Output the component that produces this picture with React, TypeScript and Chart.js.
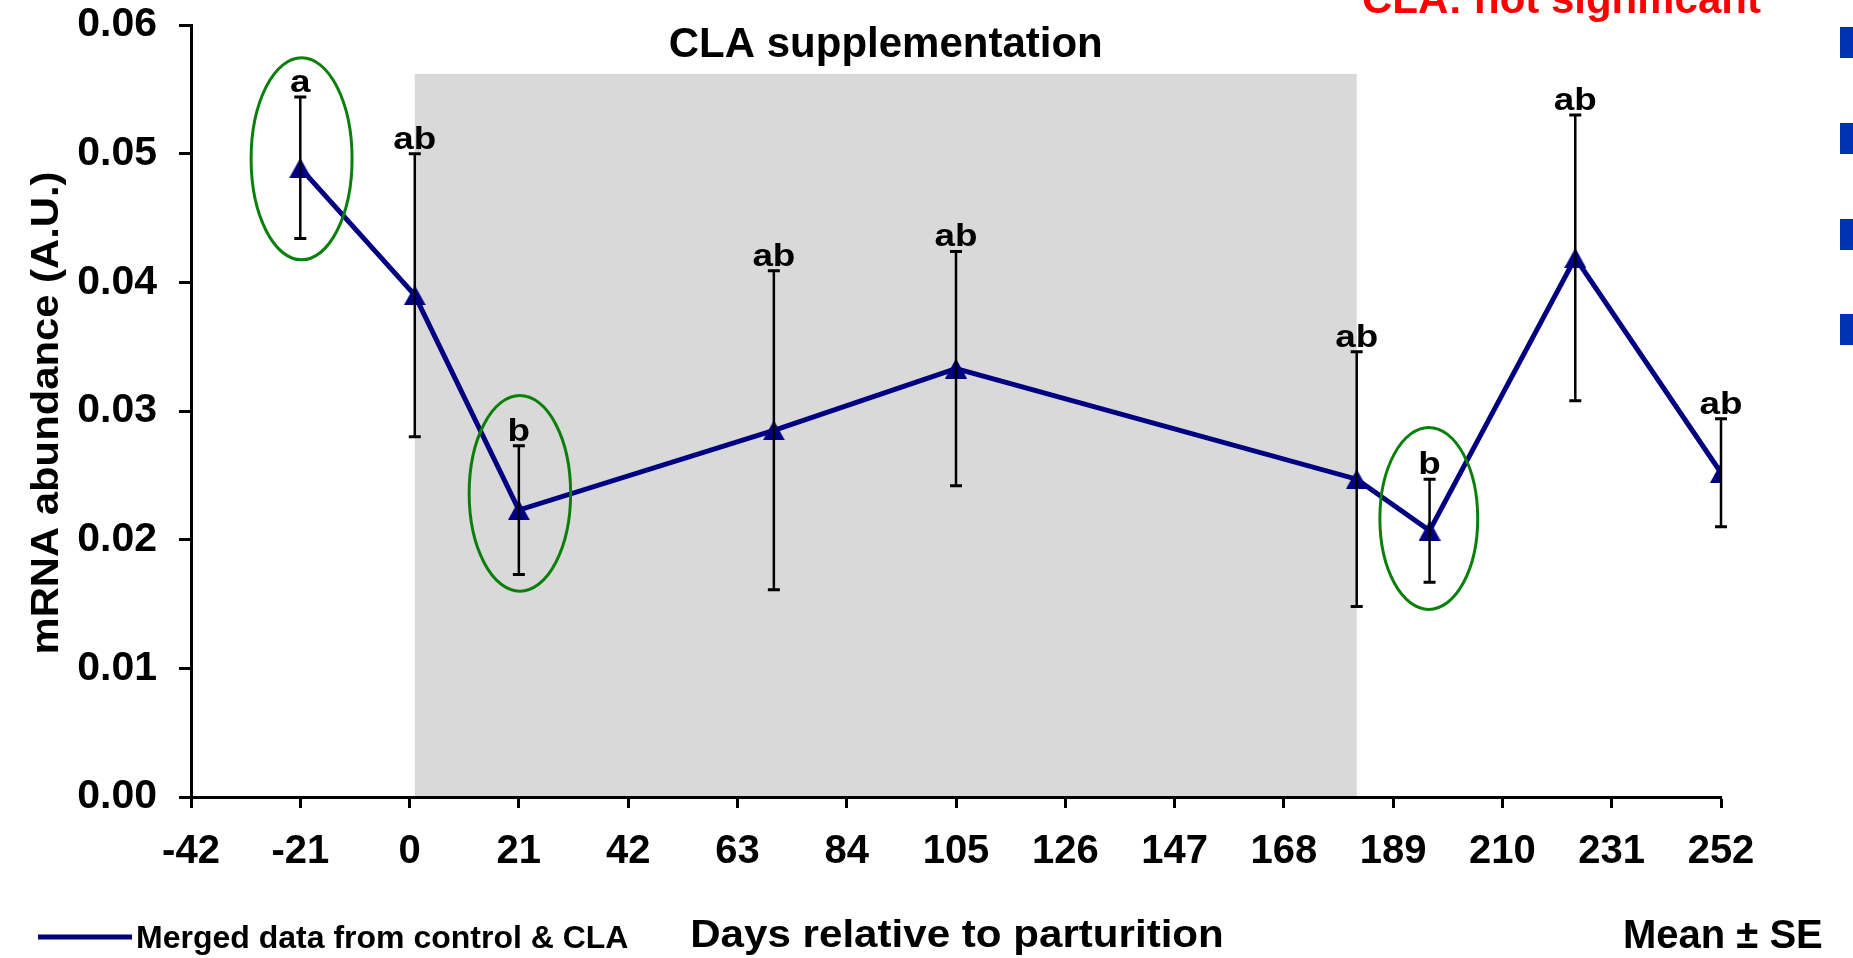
import React, { useEffect, useRef } from 'react';
import { Chart, registerables } from 'chart.js';

Chart.register(...registerables);

// ---- data ----
const days = [-21, 1, 21, 70, 105, 182, 196, 224, 252];
const means = [0.0489, 0.039, 0.0223, 0.0285, 0.0333, 0.0247, 0.0207, 0.0419, 0.0252];
const se = [0.0055, 0.011, 0.005, 0.0124, 0.0091, 0.0099, 0.004, 0.0111, 0.0042];
const letters = ['a', 'ab', 'b', 'ab', 'ab', 'ab', 'b', 'ab', 'ab'];

const xTicks = [-42, -21, 0, 21, 42, 63, 84, 105, 126, 147, 168, 189, 210, 231, 252];
const yTicks = [0, 0.01, 0.02, 0.03, 0.04, 0.05, 0.06];

// supplementation period (days) and top of shaded band (A.U.)
const supplementStart = 1;
const supplementEnd = 182;
const supplementTop = 0.0562;

// highlighted points (green ellipses), in data units
const ellipseDays = [-20.75, 21.2, 195.85];
const ellipseCenters = [0.0496, 0.0236, 0.02165];
const ellipseHalfDays = [9.7, 9.75, 9.4];
const ellipseHalfValues = [0.00785, 0.0076, 0.00707];

const seriesLabel = 'Merged data from control & CLA';
const xTitle = 'Days relative to parturition';
const yTitle = 'mRNA abundance (A.U.)';
const bandTitle = 'CLA supplementation';
const noteText = 'CLA: not significant';
const statText = 'Mean ± SE';

const FONT = '"Liberation Sans", Arial, Helvetica, sans-serif';
const NAVY = '#000080';

function drawText(
  ctx: CanvasRenderingContext2D,
  text: string,
  x: number,
  y: number,
  size: number,
  color: string,
  align: CanvasTextAlign,
  sx = 1,
  rot = 0
) {
  ctx.save();
  ctx.translate(x, y);
  if (rot) ctx.rotate(rot);
  ctx.scale(sx, 1);
  ctx.font = `bold ${size}px ${FONT}`;
  ctx.fillStyle = color;
  ctx.textAlign = align;
  ctx.textBaseline = 'alphabetic';
  ctx.fillText(text, 0, 0);
  ctx.restore();
}

function makeTriangle(): HTMLCanvasElement {
  const c = document.createElement('canvas');
  c.width = 22;
  c.height = 20;
  const g = c.getContext('2d')!;
  g.fillStyle = NAVY;
  g.beginPath();
  g.moveTo(11, 0);
  g.lineTo(22, 20);
  g.lineTo(0, 20);
  g.closePath();
  g.fill();
  return c;
}

const decorPlugin = {
  id: 'decor',
  beforeDraw(chart: any) {
    const ctx = chart.ctx as CanvasRenderingContext2D;
    const xs = chart.scales.x;
    const ys = chart.scales.y;
    const area = chart.chartArea;
    const x0 = xs.getPixelForValue(supplementStart);
    const x1 = xs.getPixelForValue(supplementEnd);
    const yt = ys.getPixelForValue(supplementTop);
    ctx.save();
    ctx.fillStyle = '#D9D9D9';
    ctx.fillRect(x0, yt, x1 - x0, area.bottom - yt - 1);
    ctx.restore();
  },
  afterDatasetsDraw(chart: any) {
    const ctx = chart.ctx as CanvasRenderingContext2D;
    const xs = chart.scales.x;
    const ys = chart.scales.y;
    ctx.save();
    // error bars
    ctx.strokeStyle = '#000';
    for (let i = 0; i < days.length; i++) {
      const x = xs.getPixelForValue(days[i]);
      const yt = ys.getPixelForValue(means[i] + se[i]);
      const yb = ys.getPixelForValue(means[i] - se[i]);
      ctx.lineWidth = 2.5;
      ctx.beginPath();
      ctx.moveTo(x, yt);
      ctx.lineTo(x, yb);
      ctx.stroke();
      ctx.lineWidth = 3;
      ctx.beginPath();
      ctx.moveTo(x - 6, yt);
      ctx.lineTo(x + 6, yt);
      ctx.moveTo(x - 6, yb);
      ctx.lineTo(x + 6, yb);
      ctx.stroke();
      drawText(ctx, letters[i], x, yt - 5, 32, '#000', 'center', 1.15);
    }
    // ellipses
    ctx.strokeStyle = '#0A800A';
    ctx.lineWidth = 3;
    for (let i = 0; i < ellipseDays.length; i++) {
      const cx = xs.getPixelForValue(ellipseDays[i]);
      const cy = ys.getPixelForValue(ellipseCenters[i]);
      const rx = Math.abs(xs.getPixelForValue(ellipseDays[i] + ellipseHalfDays[i]) - cx);
      const ry = Math.abs(ys.getPixelForValue(ellipseCenters[i] + ellipseHalfValues[i]) - cy);
      ctx.beginPath();
      ctx.ellipse(cx, cy, rx, ry, 0, 0, Math.PI * 2);
      ctx.stroke();
    }
    ctx.restore();
  },
  afterDraw(chart: any) {
    const ctx = chart.ctx as CanvasRenderingContext2D;
    const xs = chart.scales.x;
    const ys = chart.scales.y;
    // band title
    const bx = (xs.getPixelForValue(supplementStart) + xs.getPixelForValue(supplementEnd)) / 2;
    drawText(ctx, bandTitle, bx, ys.getPixelForValue(supplementTop) - 17, 42, '#000', 'center');
    // red note (cut at top)
    drawText(ctx, noteText, 1362, 13, 42, '#FF0000', 'left');
    // blue bullets at right edge
    ctx.save();
    ctx.fillStyle = '#0033B4';
    [27, 123, 219, 314].forEach((y) => ctx.fillRect(1840, y, 20, 31));
    ctx.restore();
    // legend
    ctx.save();
    ctx.strokeStyle = NAVY;
    ctx.lineWidth = 5;
    ctx.beginPath();
    ctx.moveTo(38, 937);
    ctx.lineTo(132, 937);
    ctx.stroke();
    ctx.restore();
    drawText(ctx, seriesLabel, 136, 948, 32, '#000', 'left');
    // axis titles
    drawText(ctx, xTitle, 957, 947, 39, '#000', 'center', 1.08);
    drawText(ctx, statText, 1623, 948, 40, '#000', 'left');
    drawText(ctx, yTitle, 58, 413, 38, '#000', 'center', 1.1, -Math.PI / 2);
  },
};

export default function App() {
  const ref = useRef<HTMLCanvasElement>(null);
  useEffect(() => {
    if (!ref.current) return;
    const tri = makeTriangle();
    const chart = new Chart(ref.current, {
      type: 'line',
      data: {
        datasets: [
          {
            label: seriesLabel,
            data: days.map((d, i) => ({ x: d, y: means[i] })),
            borderColor: NAVY,
            backgroundColor: NAVY,
            borderWidth: 5,
            tension: 0,
            pointStyle: tri as any,
            pointRadius: 10,
            pointHoverRadius: 10,
          },
        ],
      },
      options: {
        animation: false,
        responsive: false,
        devicePixelRatio: 1,
        layout: { padding: { top: 25, right: 132, bottom: 0, left: 0 } },
        plugins: { legend: { display: false }, tooltip: { enabled: false } },
        scales: {
          x: {
            type: 'linear',
            min: xTicks[0],
            max: xTicks[xTicks.length - 1],
            afterBuildTicks: (scale: any) => {
              scale.ticks = xTicks.map((v) => ({ value: v }));
            },
            afterFit: (scale: any) => {
              scale.height = 161;
              scale.paddingLeft = 0;
              scale.paddingRight = 0;
              scale.paddingTop = 0;
              scale.paddingBottom = 0;
            },
            border: { display: true, color: '#000', width: 3 },
            grid: {
              display: true,
              drawOnChartArea: false,
              drawTicks: true,
              tickLength: 11,
              tickColor: '#000',
              tickWidth: 3,
            },
            ticks: {
              autoSkip: false,
              maxRotation: 0,
              minRotation: 0,
              padding: 20,
              color: '#000',
              font: { family: FONT, size: 40, weight: 'bold' },
              callback: (v: any) => String(v),
            },
          },
          y: {
            type: 'linear',
            min: yTicks[0],
            max: yTicks[yTicks.length - 1],
            afterBuildTicks: (scale: any) => {
              scale.ticks = yTicks.map((v) => ({ value: v }));
            },
            afterFit: (scale: any) => {
              scale.width = 191;
              scale.paddingLeft = 0;
              scale.paddingRight = 0;
              scale.paddingTop = 0;
              scale.paddingBottom = 0;
            },
            border: { display: true, color: '#000', width: 3 },
            grid: {
              display: true,
              drawOnChartArea: false,
              drawTicks: true,
              tickLength: 12,
              tickColor: '#000',
              tickWidth: 3,
            },
            ticks: {
              padding: 22,
              color: '#000',
              font: { family: FONT, size: 41, weight: 'bold' },
              callback: (v: any) => Number(v).toFixed(2),
            },
          },
        },
      },
      plugins: [decorPlugin],
    });
    return () => chart.destroy();
  }, []);
  return (
    <div style={{ position: 'fixed', left: 0, top: 0, width: 1853, height: 958, background: '#fff' }}>
      <canvas ref={ref} width={1853} height={958} style={{ width: 1853, height: 958, display: 'block' }} />
    </div>
  );
}
